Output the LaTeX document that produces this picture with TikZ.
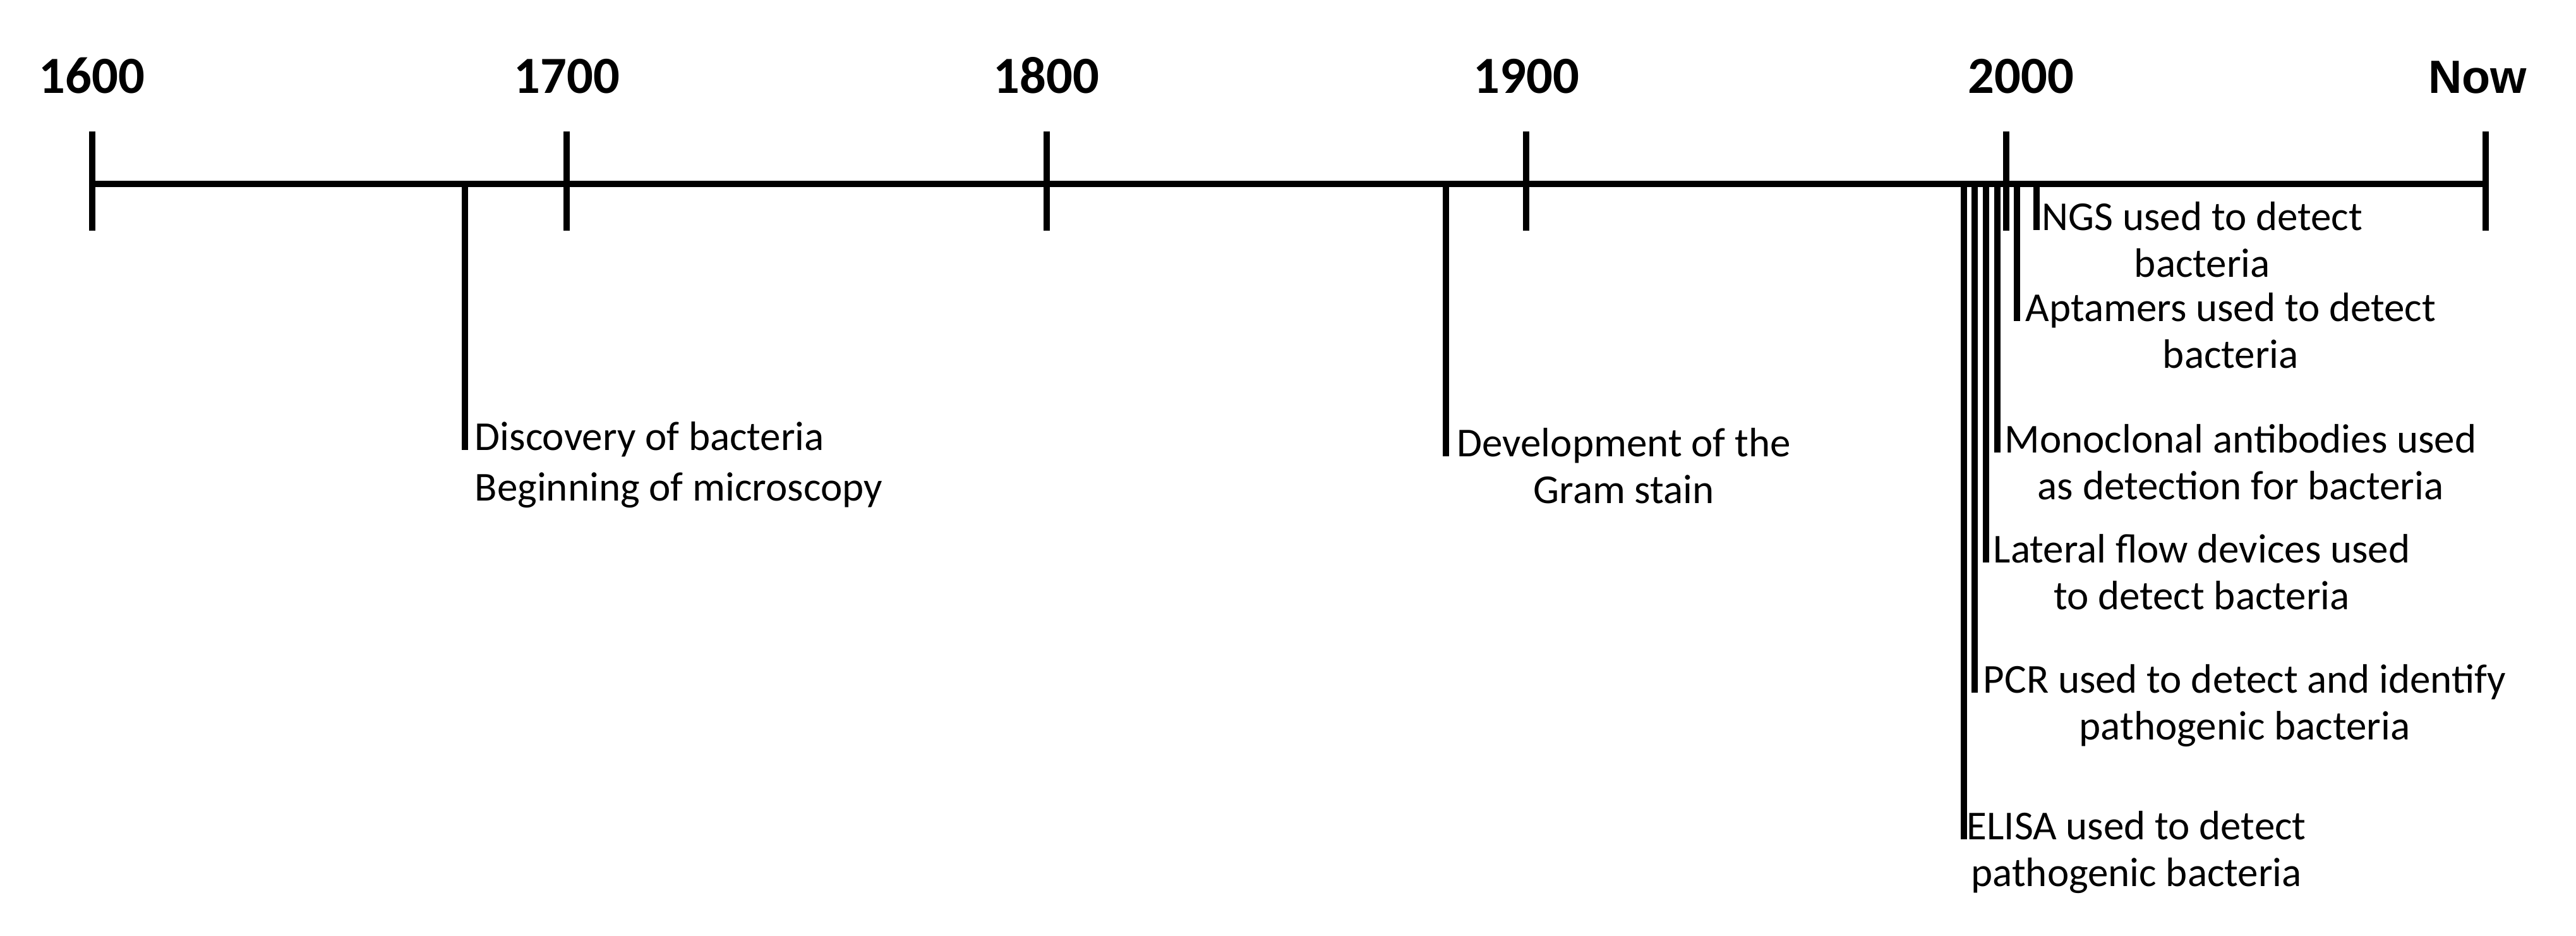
\documentclass[tikz,border=0pt]{standalone}
\usepackage{fontspec}
\setmainfont{Carlito}
\newfontfamily\nowfont{Liberation Sans}
\usetikzlibrary{positioning}

\tikzset{
  bar/.style={line width=1mm},
  year/.style={inner sep=0pt, anchor=base, font=\fontsize{23.5}{27}\selectfont\bfseries},
  event/.style={inner sep=0pt, align=center, yshift=-21.3pt, font=\fontsize{18.5}{21.3}\selectfont},
}

\begin{document}
\begin{tikzpicture}
  \useasboundingbox (0,0) rectangle (40.78,-14.81);

  % time axis
  \coordinate (start) at (1.456,-2.91);
  \coordinate (end)   at (39.35,-2.91);
  \draw[bar] (start) -- (end);

  % ticks and years
  \foreach \x/\yr/\dx in {1.456/1600/0, 8.973/1700/0, 16.567/1800/0, 24.162/1900/0, 31.756/2000/0.24} {
    \draw[bar] (\x,-2.08) -- (\x,-3.65);
    \node[year] (y\yr) at (\x+\dx,-1.48) {\yr};
  }
  \draw[bar] (39.35,-2.08) -- (39.35,-3.65);
  \node[year, font=\fontsize{21}{25}\nowfont\bfseries] (now) at (39.22,-1.48) {Now};

  % event ends
  \coordinate (disc)  at (7.36,-7.12);
  \coordinate (gram)  at (22.89,-7.22);
  \coordinate (elisa) at (31.09,-13.28);
  \coordinate (pcr)   at (31.26,-10.96);
  \coordinate (lfd)   at (31.44,-8.90);
  \coordinate (mab)   at (31.62,-7.16);
  \coordinate (apt)   at (31.93,-5.08);
  \coordinate (ngs)   at (32.24,-3.64);

  \foreach \e in {disc,gram,elisa,pcr,lfd,mab,apt,ngs}
    \draw[bar] (\e |- start) -- (\e);

  % labels
  \node[event, align=left, yshift=-1.6pt, font=\fontsize{18.5}{22.9}\selectfont] (discl) [right=1.5mm of disc, anchor=base west] {Discovery of bacteria\\Beginning of microscopy};
  \node[event] (graml)  [right=1.7mm of gram, anchor=base west]  {Development of the\\Gram stain};
  \node[event] (elisal) [right=0.4mm of elisa, anchor=base west] {ELISA used to detect\\pathogenic bacteria};
  \node[event] (pcrl)   [right=1.3mm of pcr, anchor=base west]   {PCR used to detect and identify\\pathogenic bacteria};
  \node[event] (lfdl)   [right=1.1mm of lfd, anchor=base west]   {Lateral flow devices used\\to detect bacteria};
  \node[event] (mabl)   [right=1.1mm of mab, anchor=base west]   {Monoclonal antibodies used\\as detection for bacteria};
  \node[event] (aptl)   [right=1.3mm of apt, anchor=base west]   {Aptamers used to detect\\bacteria};
  \node[event] (ngsl)   [right=0.8mm of ngs, anchor=base west]   {NGS used to detect\\bacteria};
\end{tikzpicture}
\end{document}
